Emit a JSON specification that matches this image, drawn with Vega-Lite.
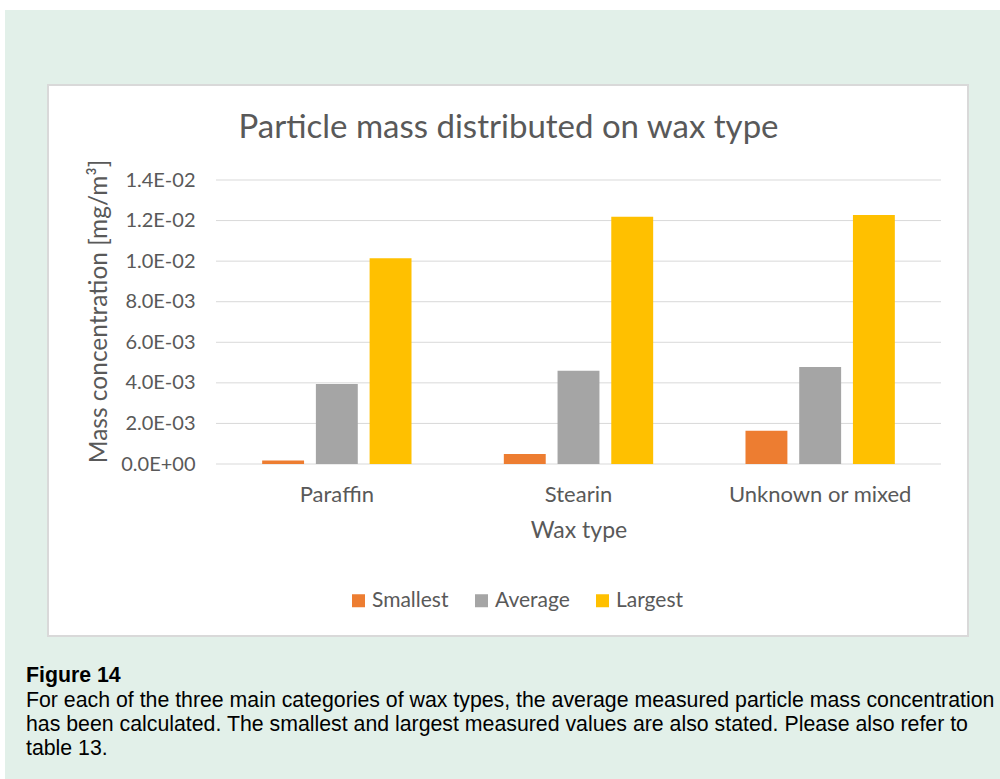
{
  "$schema": "https://vega.github.io/schema/vega-lite/v6.json",
  "width": 725,
  "height": 284,
  "autosize": {"type": "none"},
  "padding": {"left": 216, "top": 180, "right": 59, "bottom": 315},
  "background": "white",
  "title": {
    "text": "Particle mass distributed on wax type",
    "font": "Lato",
    "fontSize": 33,
    "fontWeight": "normal",
    "color": "#595959",
    "anchor": "middle",
    "frame": "group",
    "baseline": "alphabetic",
    "dx": -70,
    "offset": -161
  },
  "data": {
    "values": [
      {"wax": "Paraffin", "size": "Smallest", "value": 0.00017},
      {"wax": "Paraffin", "size": "Average", "value": 0.00394},
      {"wax": "Paraffin", "size": "Largest", "value": 0.01014},
      {"wax": "Stearin", "size": "Smallest", "value": 0.00049},
      {"wax": "Stearin", "size": "Average", "value": 0.0046},
      {"wax": "Stearin", "size": "Largest", "value": 0.01219},
      {"wax": "Unknown or mixed", "size": "Smallest", "value": 0.00164},
      {"wax": "Unknown or mixed", "size": "Average", "value": 0.00478},
      {"wax": "Unknown or mixed", "size": "Largest", "value": 0.01227}
    ]
  },
  "layer": [
    {
      "data": {"values": [{}]},
      "mark": {"type": "rect", "fill": "#e2f0e9", "stroke": null},
      "encoding": {
        "x": {"datum": -0.29103, "type": "quantitative", "scale": {"domain": [0, 1], "nice": false, "zero": false}, "axis": null},
        "x2": {"datum": 1.1},
        "y": {"datum": 1.59859, "type": "quantitative", "scale": {"domain": [0, 1], "nice": false, "zero": false}, "axis": null},
        "y2": {"datum": -1.2}
      }
    },
    {
      "data": {"values": [{}]},
      "mark": {"type": "rect", "fill": "white", "stroke": "#d9d9d9", "strokeWidth": 2},
      "encoding": {
        "x": {"datum": -0.23172, "type": "quantitative", "scale": {"domain": [0, 1], "nice": false, "zero": false}, "axis": null},
        "x2": {"datum": 1.03724},
        "y": {"datum": 1.33451, "type": "quantitative", "scale": {"domain": [0, 1], "nice": false, "zero": false}, "axis": null},
        "y2": {"datum": -0.60563}
      }
    },
    {
      "data": {"values": [{"g": 0}, {"g": 0.002}, {"g": 0.004}, {"g": 0.006}, {"g": 0.008}, {"g": 0.01}, {"g": 0.012}, {"g": 0.014}]},
      "mark": {"type": "rule", "color": "#d9d9d9", "strokeWidth": 1},
      "encoding": {
        "y": {"field": "g", "type": "quantitative", "scale": {"domain": [0, 0.014], "nice": false}, "axis": null}
      }
    },
    {
      "mark": {"type": "bar"},
      "encoding": {
        "x": {
          "field": "wax",
          "type": "nominal",
          "sort": ["Paraffin", "Stearin", "Unknown or mixed"],
          "scale": {"paddingInner": 0.382, "paddingOuter": 0.191},
          "axis": {
            "title": "Wax type",
            "zindex": 2,
            "labelAngle": 0,
            "labelLimit": 400,
            "domain": false,
            "ticks": false,
            "labelPadding": 20,
            "titlePadding": 14,
            "labelFont": "Lato",
            "labelFontSize": 22,
            "labelColor": "#595959",
            "titleFont": "Lato",
            "titleFontSize": 23,
            "titleFontWeight": "normal",
            "titleColor": "#595959"
          }
        },
        "xOffset": {
          "field": "size",
          "type": "nominal",
          "sort": ["Smallest", "Average", "Largest"],
          "scale": {"paddingInner": 0.22, "paddingOuter": 0}
        },
        "y": {
          "field": "value",
          "type": "quantitative",
          "scale": {"domain": [0, 0.014], "nice": false},
          "axis": {
            "title": "Mass concentration [mg/m³]",
            "zindex": 2,
            "values": [0, 0.002, 0.004, 0.006, 0.008, 0.01, 0.012, 0.014],
            "labelExpr": "replace(upper(format(datum.value, '.1e')), regexp('E([+-])(\\\\d)$'), 'E$10$2')",
            "grid": false,
            "domain": false,
            "ticks": false,
            "labelPadding": 21,
            "titlePadding": 9,
            "titleY": 131,
            "labelFont": "Lato",
            "labelFontSize": 20,
            "labelColor": "#595959",
            "titleFont": "Lato",
            "titleFontSize": 24.5,
            "titleFontWeight": "normal",
            "titleColor": "#595959"
          }
        },
        "color": {
          "field": "size",
          "type": "nominal",
          "scale": {"domain": ["Smallest", "Average", "Largest"], "range": ["#ED7D31", "#A5A5A5", "#FFC000"]},
          "legend": {
            "title": null,
            "orient": "none",
            "direction": "horizontal",
            "legendX": 132,
            "legendY": 410,
            "zindex": 2,
            "symbolType": "square",
            "symbolSize": 169,
            "symbolStrokeWidth": 0,
            "labelFont": "Lato",
            "labelFontSize": 21,
            "labelColor": "#595959",
            "labelOffset": 3,
            "columnPadding": 22
          }
        }
      }
    },
    {
      "data": {"values": [{}]},
      "mark": {"type": "text", "text": "Figure 14", "font": "Liberation Sans", "fontSize": 21.3, "fontWeight": "bold", "color": "black", "align": "left", "baseline": "alphabetic"},
      "encoding": {
        "x": {"datum": -0.26207, "type": "quantitative", "scale": {"domain": [0, 1], "nice": false, "zero": false}, "axis": null},
        "y": {"datum": -0.76761, "type": "quantitative", "scale": {"domain": [0, 1], "nice": false, "zero": false}, "axis": null}
      }
    },
    {
      "data": {"values": [{}]},
      "mark": {
        "type": "text",
        "text": [
          "For each of the three main categories of wax types, the average measured particle mass concentration",
          "has been calculated. The smallest and largest measured values are also stated. Please also refer to",
          "table 13."
        ],
        "font": "Liberation Sans",
        "fontSize": 21.3,
        "lineHeight": 24,
        "color": "black",
        "align": "left",
        "baseline": "alphabetic"
      },
      "encoding": {
        "x": {"datum": -0.26207, "type": "quantitative", "scale": {"domain": [0, 1], "nice": false, "zero": false}, "axis": null},
        "y": {"datum": -0.85563, "type": "quantitative", "scale": {"domain": [0, 1], "nice": false, "zero": false}, "axis": null}
      }
    }
  ],
  "resolve": {"scale": {"x": "independent", "y": "independent"}},
  "config": {"view": {"stroke": null}}
}
